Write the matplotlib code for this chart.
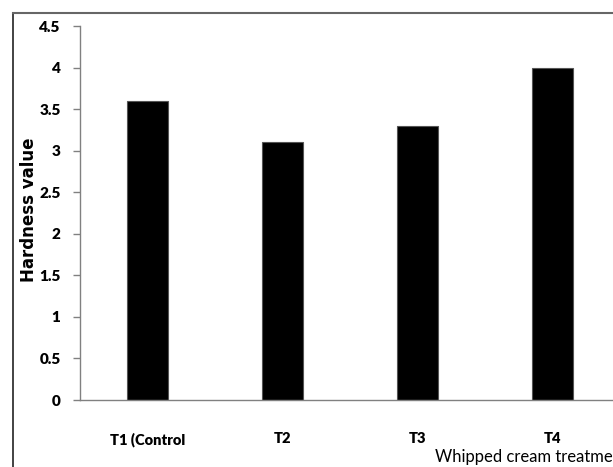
"""
Hardness value of whipped cream treatments (bar chart).
"""
import matplotlib

matplotlib.use("Agg")
import matplotlib.pyplot as plt
from matplotlib.lines import Line2D

treatments = ["T1 (Control", "T2", "T3", "T4"]
hardness = [3.6, 3.1, 3.3, 4.0]
y_ticks = [0, 0.5, 1, 1.5, 2, 2.5, 3, 3.5, 4, 4.5]
y_labels = ["0", "0.5", "1", "1.5", "2", "2.5", "3", "3.5", "4", "4.5"]

W, H = 613, 467
fig = plt.figure(figsize=(W / 100, H / 100), dpi=100)

# plot area in pixel terms: y-axis at x=80, zero line at y=400, top at y=26
left, right = 80 / W, 620 / W
bottom, top = 1 - 400 / H, 1 - 26 / H
ax = fig.add_axes([left, bottom, right - left, top - bottom])

x = range(len(treatments))
ax.bar(x, hardness, width=0.31, color="black", edgecolor="#555555", linewidth=0.8)

ax.set_xlim(-0.5, 3.5)
ax.set_ylim(0, 4.5)
ax.set_yticks(y_ticks)
ax.set_yticklabels(y_labels, fontfamily="Lato", fontweight="heavy", fontsize=11)
ax.set_xticks(list(x))
ax.set_xticklabels(treatments, fontfamily="Lato", fontweight="heavy", fontsize=10.5)
ax.tick_params(axis="x", length=0, pad=23)
ax.tick_params(axis="y", length=5, width=1, color="#808080", pad=9)

for side in ["top", "right"]:
    ax.spines[side].set_visible(False)
for side in ["left", "bottom"]:
    ax.spines[side].set_color("#808080")
    ax.spines[side].set_linewidth(1)

ax.set_ylabel("Hardness value", fontfamily="DejaVu Sans", fontweight="bold", fontsize=12)
ax.yaxis.set_label_coords((38 - 80) / 540, (400 - 210) / 374)

fig.text(435 / W, 1 - 457 / H, "Whipped cream treatments", fontfamily="Lato",
         fontsize=12, ha="left", va="center")

# outer chart frame (left and top edges visible)
fig.add_artist(Line2D([13 / W, 13 / W], [0, 1 - 13 / H], color="#222222", linewidth=1.2))
fig.add_artist(Line2D([13 / W, 1], [1 - 13 / H, 1 - 13 / H], color="#666666", linewidth=1.5))

fig.savefig("out.png", dpi=100)
